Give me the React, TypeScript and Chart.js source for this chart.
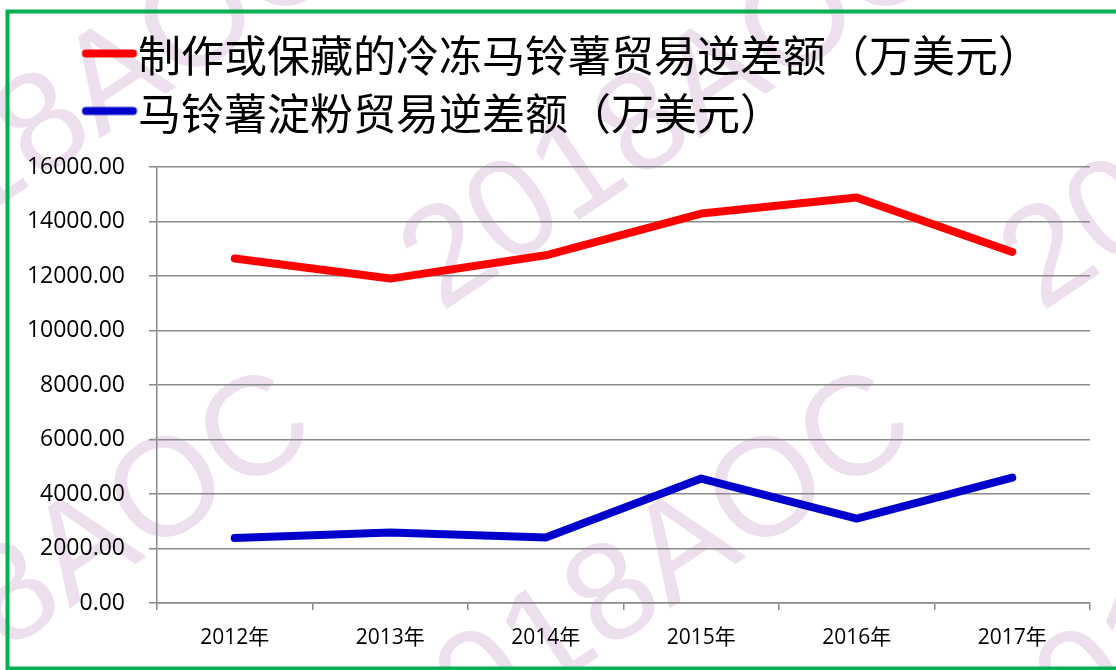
import React, { useEffect, useRef } from 'react';
import { Chart, registerables } from 'chart.js';

Chart.register(...registerables);

const categories = ['2012年', '2013年', '2014年', '2015年', '2016年', '2017年'];
const frozenDeficit = [12640, 11905, 12760, 14290, 14877, 12881];
const starchDeficit = [2385, 2583, 2400, 4565, 3097, 4602];
const seriesNames = ['制作或保藏的冷冻马铃薯贸易逆差额（万美元）', '马铃薯淀粉贸易逆差额（万美元）'];
const seriesColors = ['#FF0000', '#0000CC'];
const yMin = 0;
const yMax = 16000;
const yStep = 2000;
const watermarkText = '2018AOC';

const GRID = '#8A8A8A';

function makeLegendLine(color: string): HTMLCanvasElement {
  const c = document.createElement('canvas');
  c.width = 200;
  c.height = 20;
  const g = c.getContext('2d')!;
  g.strokeStyle = color;
  g.lineWidth = 8;
  g.lineCap = 'round';
  g.beginPath();
  g.moveTo(120.5, 7.5);
  g.lineTo(167.5, 7.5);
  g.stroke();
  return c;
}

const watermarkPlugin = {
  id: 'watermark',
  beforeDraw(chart: any) {
    const ctx = chart.ctx as CanvasRenderingContext2D;
    ctx.save();
    ctx.fillStyle = '#EEDFEF';
    ctx.font = '140px "Liberation Sans", Arial, sans-serif';
    ctx.textBaseline = 'alphabetic';
    ctx.textAlign = 'left';
    const base = [441, 313];
    const a = [600, 0];
    const b = [-30, 470];
    for (let i = -2; i <= 2; i++) {
      for (let j = -1; j <= 1; j++) {
        const ox = base[0] + i * a[0] + j * b[0];
        const oy = base[1] + i * a[1] + j * b[1];
        ctx.save();
        ctx.translate(ox, oy);
        ctx.rotate((-34 * Math.PI) / 180);
        ctx.fillText(watermarkText, 0, 0);
        ctx.restore();
      }
    }
    ctx.restore();
  },
};

const framePlugin = {
  id: 'frame',
  afterDraw(chart: any) {
    const ctx = chart.ctx as CanvasRenderingContext2D;
    ctx.save();
    ctx.strokeStyle = '#00B050';
    ctx.lineWidth = 4;
    ctx.strokeRect(7.5, 11.5, 1200, 657);
    ctx.restore();
  },
};

export default function App() {
  const canvasRef = useRef<HTMLCanvasElement | null>(null);

  useEffect(() => {
    document.body.style.margin = '0';
    const canvas = canvasRef.current;
    if (!canvas) return;
    const legendImages = seriesColors.map(makeLegendLine);

    const chart = new Chart(canvas, {
      type: 'line',
      data: {
        labels: categories,
        datasets: [
          {
            label: seriesNames[0],
            data: frozenDeficit,
            borderColor: seriesColors[0],
            backgroundColor: seriesColors[0],
            borderWidth: 8,
            pointRadius: 0,
            pointHoverRadius: 0,
            borderCapStyle: 'round',
            borderJoinStyle: 'round',
            fill: false,
            tension: 0,
          },
          {
            label: seriesNames[1],
            data: starchDeficit,
            borderColor: seriesColors[1],
            backgroundColor: seriesColors[1],
            borderWidth: 8,
            pointRadius: 0,
            pointHoverRadius: 0,
            borderCapStyle: 'round',
            borderJoinStyle: 'round',
            fill: false,
            tension: 0,
          },
        ],
      },
      options: {
        animation: false,
        responsive: true,
        maintainAspectRatio: false,
        layout: { padding: { left: 0, right: 26, top: 20, bottom: 0 } },
        plugins: {
          tooltip: { enabled: false },
          legend: {
            display: true,
            position: 'top',
            align: 'start',
            weight: 3000,
            labels: {
              color: '#000000',
              font: { family: '"Noto Sans CJK SC", sans-serif', size: 43 },
              padding: 14.5,
              usePointStyle: true,
              pointStyleWidth: 102,
              generateLabels: (ch: any) => {
                const items = (Chart.defaults.plugins.legend.labels as any).generateLabels(ch);
                return items.map((it: any, i: number) => ({
                  ...it,
                  pointStyle: legendImages[i],
                  fontColor: '#000000',
                }));
              },
            },
          } as any,
          title: {
            display: true,
            text: '',
            weight: 2000,
            font: { size: 2 },
            padding: { top: 0, bottom: 19.6 },
          } as any,
        },
        scales: {
          x: {
            type: 'category',
            offset: true,
            grid: {
              display: true,
              offset: true,
              drawOnChartArea: false,
              drawTicks: true,
              tickLength: 7,
              color: GRID,
              lineWidth: 1.5,
            },
            border: { display: true, color: GRID, width: 1.5 },
            ticks: {
              color: '#000000',
              font: { family: '"Open Sans", "Noto Sans CJK SC", sans-serif', size: 21 },
              padding: 15.4,
              maxRotation: 0,
              autoSkip: false,
            },
            afterFit: (s: any) => {
              s.height = 67;
            },
          },
          y: {
            type: 'linear',
            min: yMin,
            max: yMax,
            grid: {
              color: GRID,
              lineWidth: 1.5,
              drawTicks: true,
              tickLength: 8,
            },
            border: { display: true, color: GRID, width: 1.5 },
            ticks: {
              stepSize: yStep,
              color: '#000000',
              font: { family: '"Open Sans", sans-serif', size: 23 },
              padding: 24,
              callback: (v: any) => Number(v).toFixed(2),
            },
            afterFit: (s: any) => {
              s.width = 157;
            },
          },
        },
      },
      plugins: [watermarkPlugin, framePlugin],
    });

    return () => {
      chart.destroy();
    };
  }, []);

  return (
    <div style={{ position: 'absolute', left: 0, top: 0, width: 1116, height: 670, background: '#FFFFFF' }}>
      <canvas ref={canvasRef} />
    </div>
  );
}
